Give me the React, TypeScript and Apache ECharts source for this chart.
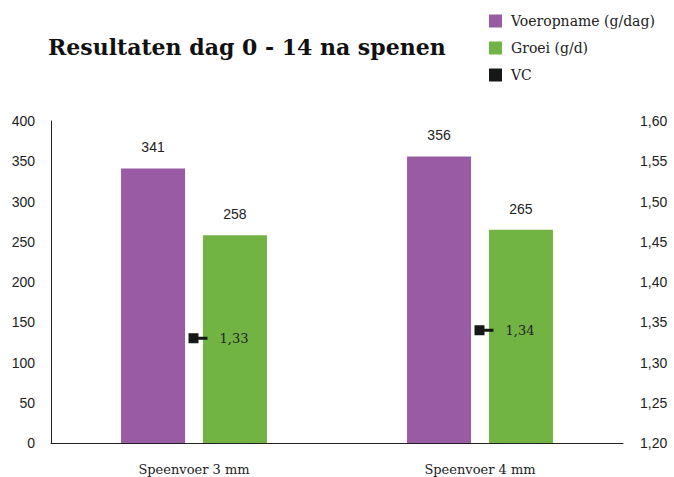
import React, { useEffect, useRef } from "react";
import * as echarts from "echarts";

const categories = ["Speenvoer 3 mm", "Speenvoer 4 mm"];
const voeropname = [341, 356];
const groei = [258, 265];
const vc = [1.33, 1.34];
const leftTicks = { min: 0, max: 400, interval: 50 };
const rightTicks = { min: 1.2, max: 1.6, interval: 0.05 };

const SLAB = "'DejaVu Serif', 'Liberation Serif', serif";
const SANS = "'Liberation Sans', Arial, sans-serif";

const vcSymbol = "path://M0,0 H10 V10 H0 Z M10,3.5 H19 V6.5 H10 Z";

export default function App() {
  const ref = useRef<HTMLDivElement>(null);
  useEffect(() => {
    if (!ref.current) return;
    const chart = echarts.init(ref.current, undefined, { renderer: "svg" });
    chart.setOption({
      animation: false,
      backgroundColor: "#ffffff",
      title: {
        text: "Resultaten dag 0 - 14 na spenen",
        left: 43,
        top: 31,
        textStyle: { fontFamily: SLAB, fontWeight: "bold", fontSize: 22, color: "#111" },
      },
      legend: {
        orient: "vertical",
        left: 489,
        top: 14,
        padding: 0,
        itemWidth: 13,
        itemHeight: 13,
        itemGap: 13,
        textStyle: { fontFamily: SLAB, fontSize: 14, color: "#222", padding: [0, 0, 0, 4] },
        data: [
          { name: "Voeropname (g/dag)", icon: "rect" },
          { name: "Groei (g/d)", icon: "rect" },
          { name: "VC", icon: "rect" },
        ],
      },
      grid: { left: 51, right: 51, top: 121, bottom: 34 },
      xAxis: {
        type: "category",
        data: categories,
        axisLine: { lineStyle: { color: "#222", width: 1 } },
        axisTick: { show: false },
        axisLabel: { fontFamily: SLAB, fontSize: 13, color: "#222", margin: 20 },
      },
      yAxis: [
        {
          type: "value",
          min: leftTicks.min,
          max: leftTicks.max,
          interval: leftTicks.interval,
          axisLine: { show: true, lineStyle: { color: "#222" } },
          axisTick: { show: false },
          splitLine: { show: false },
          axisLabel: { fontFamily: SANS, fontSize: 14, color: "#222", margin: 16 },
        },
        {
          type: "value",
          min: rightTicks.min,
          max: rightTicks.max,
          interval: rightTicks.interval,
          axisLine: { show: false },
          axisTick: { show: false },
          splitLine: { show: false },
          axisLabel: {
            fontFamily: SANS,
            fontSize: 14,
            color: "#222",
            margin: 17,
            formatter: (v: number) => v.toFixed(2).replace(".", ","),
          },
        },
      ],
      series: [
        {
          name: "Voeropname (g/dag)",
          type: "bar",
          data: voeropname,
          barWidth: 64,
          barGap: "28%",
          itemStyle: { color: "#9A5BA5" },
          label: { show: true, position: "top", distance: 14, fontFamily: SANS, fontSize: 14, color: "#222" },
        },
        {
          name: "Groei (g/d)",
          type: "bar",
          data: groei,
          barWidth: 64,
          barGap: "28%",
          itemStyle: { color: "#72B443" },
          label: { show: true, position: "top", distance: 14, fontFamily: SANS, fontSize: 14, color: "#222" },
        },
        {
          name: "VC",
          type: "scatter",
          yAxisIndex: 1,
          data: vc,
          symbol: vcSymbol,
          symbolSize: [19, 10],
          symbolOffset: [4, 0],
          itemStyle: { color: "#161818", opacity: 1 },
          z: 5,
          label: {
            show: true,
            position: "right",
            distance: 12,
            fontFamily: SLAB,
            fontSize: 13,
            color: "#222",
            formatter: (p: any) => p.value.toFixed(2).replace(".", ","),
          },
        },
      ],
    });
    return () => chart.dispose();
  }, []);
  return <div ref={ref} style={{ width: 674, height: 477, position: "absolute", left: 0, top: 0 }} />;
}
